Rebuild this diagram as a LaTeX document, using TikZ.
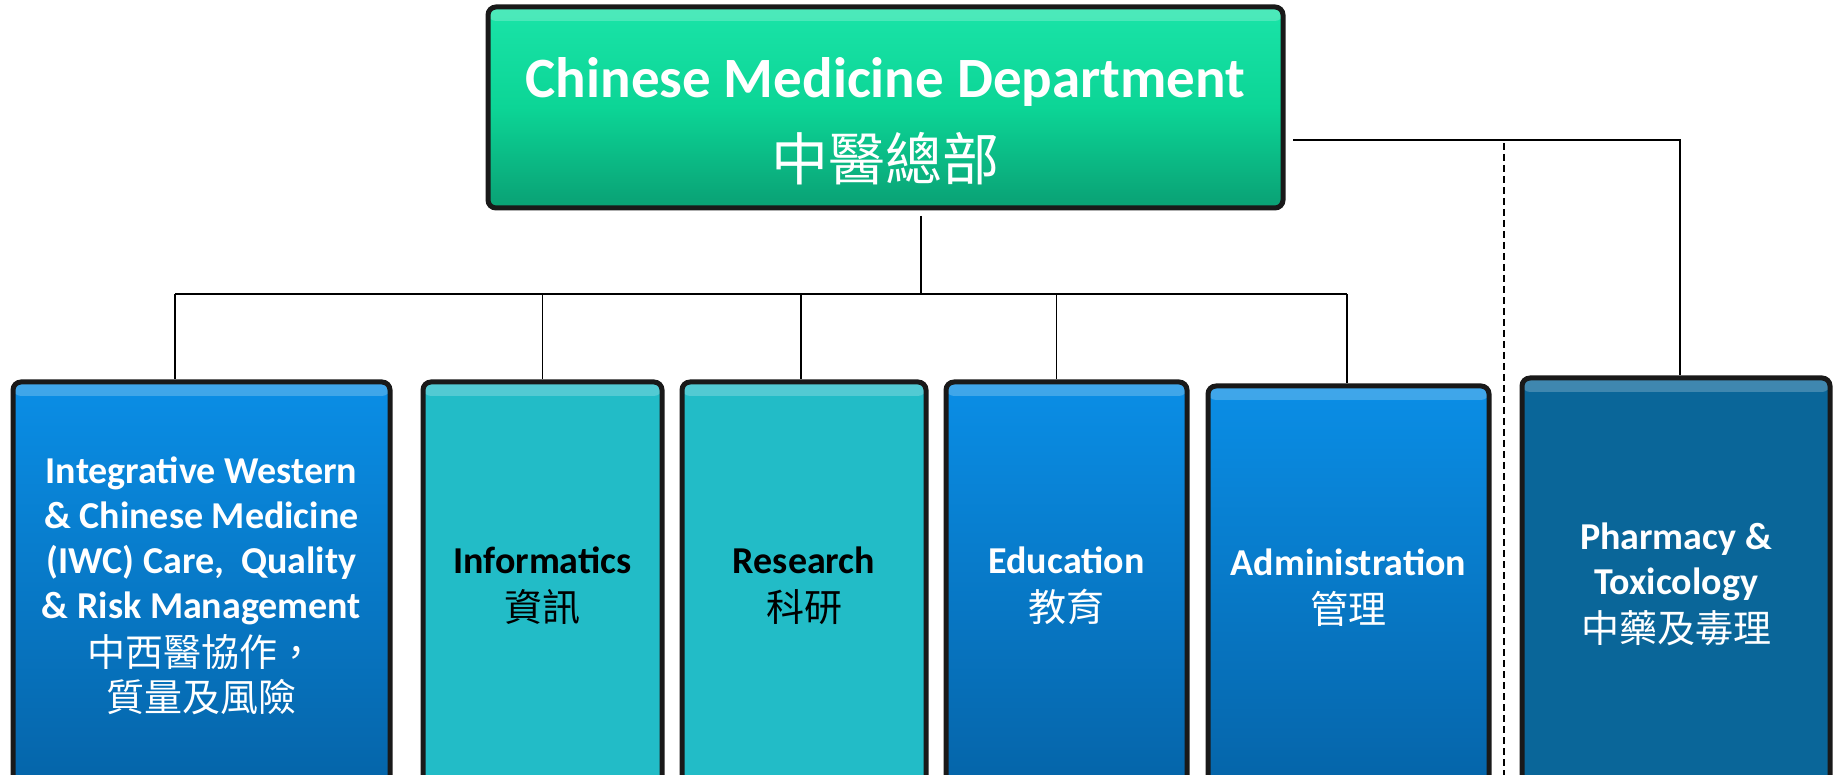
\documentclass[tikz,border=0pt]{standalone}
\usepackage{fontspec}
\setmainfont{Carlito}
\newfontfamily\cjk{Noto Sans CJK TC}
\usetikzlibrary{calc}
\definecolor{headtop}{RGB}{26,228,168}
\definecolor{headmid}{RGB}{12,213,150}
\definecolor{headbot}{RGB}{10,160,116}
\definecolor{blutop}{RGB}{10,142,230}
\definecolor{blubot}{RGB}{5,100,168}
\definecolor{tealfill}{RGB}{34,188,199}
\definecolor{pharmfill}{RGB}{10,102,153}
\tikzset{%
  unitbox/.style  = {shape=rectangle, rounded corners=4pt,%
                     draw=black!90, line width=2.5pt, align=center,%
                     inner xsep=2pt, text=white,%
                     font=\bfseries\fontsize{19}{22.5}\selectfont,%
                     path picture={\fill[white,opacity=.22]%
                       (path picture bounding box.north west) rectangle%
                       ([yshift=-7pt]path picture bounding box.north east);}},%
  headbox/.style  = {unitbox, top color=headtop, bottom color=headbot,%
                     middle color=headmid,%
                     font=\bfseries\fontsize{28.5}{41.5}\selectfont},%
  bluebox/.style  = {unitbox, top color=blutop, bottom color=blubot},%
  tealbox/.style  = {unitbox, fill=tealfill, text=black},%
  pharmbox/.style = {unitbox, fill=pharmfill},%
  link/.style     = {draw=black, line width=0.9pt}%
}
\newcommand{\zh}[1]{{\cjk\mdseries #1}}
\begin{document}
\begin{tikzpicture}[x=0.5pt,y=-0.5pt]
	\useasboundingbox (0,0) rectangle (1833,775);
	\node (head) at (885.5,107.5) [headbox, minimum width=397.5pt, minimum height=100.5pt]
		{\rule{0pt}{34pt}Chinese Medicine Department\\\zh{中醫總部}};
	\node (iwc) at (201.5,586) [bluebox, minimum width=188.5pt, minimum height=204pt]
		{Integrative Western\\ \& Chinese Medicine\\ (IWC) Care,~ Quality\\ \& Risk Management\\[1.5pt]
		 \zh{中西醫協作，}\\ \zh{質量及風險}};
	\node (info) at (542.5,586) [tealbox, minimum width=119.5pt, minimum height=204pt]
		{Informatics\\[1.5pt]\zh{資訊}};
	\node (res) at (804,586) [tealbox, minimum width=122pt, minimum height=204pt]
		{Research\\[1.5pt]\zh{科研}};
	\node (edu) at (1066.5,586) [bluebox, minimum width=120.5pt, minimum height=204pt]
		{Education\\[1.5pt]\zh{教育}};
	\node (admin) at (1348.5,588) [bluebox, minimum width=140.5pt, minimum height=202pt]
		{Administration\\[1.5pt]\zh{管理}};
	\node (pharm) at (1676,584) [pharmbox, minimum width=154pt, minimum height=206pt]
		{Pharmacy \&\\ Toxicology\\[1.5pt]\zh{中藥及毒理}};
	\coordinate (hd)   at (921,216);
	\coordinate (bus)  at (921,294);
	\coordinate (busL) at (175,294);
	\coordinate (busR) at (1347,294);
	\coordinate (side) at (1293,140);
	\coordinate (sepT) at (1504,143);
	\coordinate (sepB) at (1504,775);
	\draw[link] (hd) -- (bus);
	\draw[link] (busL) -- (busR);
	\draw[link] (busL) -- (busL |- iwc.north);
	\draw[link] (info.north |- bus) -- (info.north);
	\draw[link] ([xshift=-1.5pt]res.north |- bus) -- ([xshift=-1.5pt]res.north);
	\draw[link] ([xshift=-5pt]edu.north |- bus) -- ([xshift=-5pt]edu.north);
	\draw[link] (busR) -- (busR |- admin.north);
	\draw[link] (side) -| ([xshift=2pt]pharm.north);
	\draw[link, dash pattern=on 3.5pt off 2pt] (sepT) -- (sepB);
\end{tikzpicture}
\end{document}
